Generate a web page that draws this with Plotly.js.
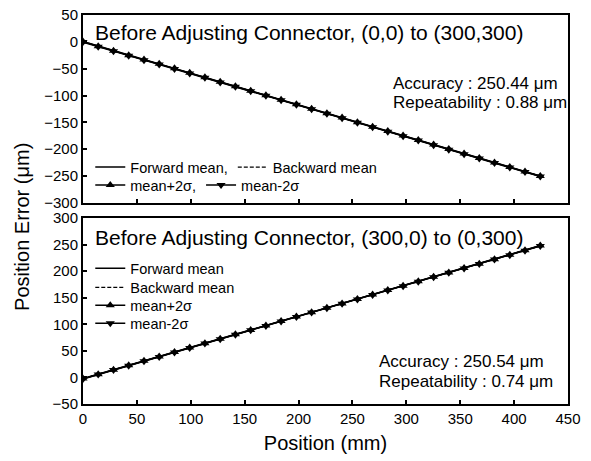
<!DOCTYPE html>
<html>
<head>
<meta charset="utf-8">
<script src="https://cdn.plot.ly/plotly-3.0.1.min.js"></script>
<style>html,body{margin:0;padding:0;background:#fff;}#chart{width:591px;height:461px;}</style>
</head>
<body>
<div id="chart"></div>
<script>
// Position along the diagonal (mm)
var position = [0, 14.1, 28.3, 42.4, 56.6, 70.7, 84.9, 99.0, 113.1, 127.3, 141.4, 155.6, 169.7, 183.8, 198.0, 212.1, 226.3, 240.4, 254.6, 268.7, 282.8, 297.0, 311.1, 325.3, 339.4, 353.6, 367.7, 381.8, 396.0, 410.1, 424.3];

// Top panel: (0,0) to (300,300)
var topForward = [0, -8.6, -17.2, -25.3, -33.6, -41.5, -49.8, -58.3, -66.6, -75.0, -83.2, -91.5, -100.0, -108.4, -116.8, -125.0, -133.4, -141.6, -150.2, -158.5, -166.8, -175.1, -183.5, -191.8, -200.3, -208.6, -216.9, -225.2, -233.6, -241.9, -250.4];
var topBackward = [0.2, -8.4, -17.0, -25.5, -33.4, -41.7, -50.0, -58.1, -66.4, -75.2, -83.4, -91.3, -99.8, -108.6, -116.6, -125.2, -133.2, -141.8, -150.0, -158.7, -166.6, -175.3, -183.3, -192.0, -200.1, -208.8, -216.7, -225.4, -233.4, -242.1, -250.2];
var topPlus2s = [0.6, -8.0, -16.6, -24.8, -33.0, -41.0, -49.3, -57.7, -66.1, -74.5, -82.7, -90.9, -99.5, -107.9, -116.2, -124.5, -132.8, -141.1, -149.6, -158.0, -166.2, -174.6, -182.9, -191.3, -199.7, -208.1, -216.3, -224.7, -233.0, -241.4, -249.8];
var topMinus2s = [-0.5, -9.1, -17.7, -25.9, -34.1, -42.1, -50.4, -58.8, -67.1, -75.6, -83.8, -92.0, -100.5, -109.0, -117.3, -125.6, -133.9, -142.2, -150.7, -159.1, -167.3, -175.7, -184.0, -192.4, -200.8, -209.2, -217.5, -225.8, -234.1, -242.5, -251.0];

// Bottom panel: (300,0) to (0,300)
var botForward = [-2.5, 5.8, 14.2, 22.5, 30.9, 39.1, 47.4, 55.8, 64.1, 72.5, 80.8, 89.0, 97.4, 105.7, 114.1, 122.4, 130.6, 139.0, 147.3, 155.7, 164.0, 172.2, 180.6, 188.9, 197.3, 205.6, 213.8, 222.2, 230.5, 238.9, 247.8];
var botBackward = [-2.3, 6.0, 14.0, 22.7, 30.7, 39.3, 47.2, 56.0, 63.9, 72.7, 80.6, 89.2, 97.2, 105.9, 113.9, 122.6, 130.4, 139.2, 147.1, 155.9, 163.8, 172.4, 180.4, 189.1, 197.1, 205.8, 213.6, 222.4, 230.3, 239.1, 247.6];
var botPlus2s = [-2.0, 6.2, 14.6, 22.9, 31.3, 39.5, 47.8, 56.2, 64.5, 72.9, 81.2, 89.4, 97.8, 106.1, 114.5, 122.8, 131.0, 139.4, 147.7, 156.1, 164.4, 172.6, 181.0, 189.3, 197.7, 206.0, 214.2, 222.6, 230.9, 239.3, 248.3];
var botMinus2s = [-2.9, 5.4, 13.8, 22.1, 30.5, 38.7, 47.0, 55.4, 63.7, 72.1, 80.4, 88.6, 97.0, 105.3, 113.7, 122.0, 130.2, 138.6, 146.9, 155.3, 163.6, 171.8, 180.2, 188.5, 196.9, 205.2, 213.4, 221.8, 230.1, 238.5, 247.4];

var topTitle = 'Before Adjusting Connector, (0,0) to (300,300)';
var botTitle = 'Before Adjusting Connector, (300,0) to (0,300)';
var topStats = ['Accuracy : 250.44 μm', 'Repeatability : 0.88 μm'];
var botStats = ['Accuracy : 250.54 μm', 'Repeatability : 0.74 μm'];

var FONT = 'Arial, "Liberation Sans", sans-serif';
var K = '#000';

function tr(x, y, name, xa, ya, opts) {
  var t = {x: x, y: y, name: name, xaxis: xa, yaxis: ya, type: 'scatter', hoverinfo: 'skip',
    mode: opts.mode, line: {color: K, width: opts.lw || 2, dash: opts.dash || 'solid'}, legend: opts.legend};
  if (opts.symbol) t.marker = {symbol: opts.symbol, size: 8, color: K};
  return t;
}

var data = [
  tr(position, topForward, 'Forward mean,', 'x2', 'y', {mode: 'lines', lw: 1.5, legend: 'legend'}),
  tr(position, topBackward, 'Backward mean', 'x2', 'y', {mode: 'lines', dash: '4px,2px', lw: 1.2, legend: 'legend'}),
  tr(position, topPlus2s, 'mean+2σ,', 'x2', 'y', {mode: 'lines+markers', symbol: 'triangle-up', lw: 1.5, legend: 'legend3'}),
  tr(position, topMinus2s, 'mean-2σ', 'x2', 'y', {mode: 'lines+markers', symbol: 'triangle-down', lw: 1.5, legend: 'legend3'}),
  tr(position, botForward, 'Forward mean', 'x', 'y2', {mode: 'lines', lw: 1.5, legend: 'legend2'}),
  tr(position, botBackward, 'Backward mean', 'x', 'y2', {mode: 'lines', dash: '4px,2px', lw: 1.2, legend: 'legend4'}),
  tr(position, botPlus2s, 'mean+2σ', 'x', 'y2', {mode: 'lines+markers', symbol: 'triangle-up', lw: 1.5, legend: 'legend5'}),
  tr(position, botMinus2s, 'mean-2σ', 'x', 'y2', {mode: 'lines+markers', symbol: 'triangle-down', lw: 1.5, legend: 'legend6'})
];

var axisCommon = {showline: true, mirror: true, linecolor: K, linewidth: 2, ticks: 'inside', ticklen: 4, tickwidth: 2,
  tickcolor: K, showgrid: false, zeroline: false, tickfont: {family: FONT, size: 15, color: K}, dtick: 50};

function legendCfg(x, y, orient) {
  return {x: x, y: y, xanchor: 'left', yanchor: 'top', orientation: orient, bgcolor: 'rgba(0,0,0,0)',
    borderwidth: 0, font: {family: FONT, size: 14.5, color: K}, tracegroupgap: 0, itemclick: false};
}

var layout = {
  width: 591, height: 461,
  margin: {l: 83, r: 23, t: 15, b: 57},
  paper_bgcolor: '#fff', plot_bgcolor: '#fff',
  showlegend: true,
  font: {family: FONT, color: K},
  xaxis: Object.assign({}, axisCommon, {domain: [0, 1], anchor: 'y2', range: [0, 450],
    title: {text: 'Position (mm)', font: {family: FONT, size: 20, color: K}, standoff: 10}}),
  xaxis2: Object.assign({}, axisCommon, {domain: [0, 1], anchor: 'y', range: [0, 450], matches: 'x', showticklabels: false}),
  yaxis: Object.assign({}, axisCommon, {domain: [0.517, 1], anchor: 'x2', range: [-300, 50]}),
  yaxis2: Object.assign({}, axisCommon, {domain: [0, 0.478], anchor: 'x', range: [-50, 300]}),
  legend: legendCfg(0.015, 0.65, 'h'),
  legend3: legendCfg(0.015, 0.604, 'h'),
  legend2: legendCfg(0.015, 0.39, 'v'),
  legend4: legendCfg(0.015, 0.341, 'v'),
  legend5: legendCfg(0.015, 0.295, 'v'),
  legend6: legendCfg(0.015, 0.2486, 'v'),
  annotations: [
    {text: topTitle, xref: 'paper', yref: 'paper', x: 0.02, y: 0.956, xanchor: 'left', yanchor: 'middle', showarrow: false, font: {family: FONT, size: 21, color: K}},
    {text: botTitle, xref: 'paper', yref: 'paper', x: 0.02, y: 0.429, xanchor: 'left', yanchor: 'middle', showarrow: false, font: {family: FONT, size: 21, color: K}},
    {text: topStats[0], xref: 'paper', yref: 'paper', x: 0.635, y: 0.825, xanchor: 'left', yanchor: 'middle', showarrow: false, font: {family: FONT, size: 17, color: K}},
    {text: topStats[1], xref: 'paper', yref: 'paper', x: 0.635, y: 0.776, xanchor: 'left', yanchor: 'middle', showarrow: false, font: {family: FONT, size: 17, color: K}},
    {text: botStats[0], xref: 'paper', yref: 'paper', x: 0.606, y: 0.1105, xanchor: 'left', yanchor: 'middle', showarrow: false, font: {family: FONT, size: 17, color: K}},
    {text: botStats[1], xref: 'paper', yref: 'paper', x: 0.606, y: 0.0566, xanchor: 'left', yanchor: 'middle', showarrow: false, font: {family: FONT, size: 17, color: K}},
    {text: 'Position Error (μm)', xref: 'paper', yref: 'paper', x: -0.126, y: 0.455, xanchor: 'center', yanchor: 'middle', textangle: -90, showarrow: false, font: {family: FONT, size: 20, color: K}}
  ]
};

Plotly.newPlot('chart', data, layout, {staticPlot: true, displayModeBar: false});
</script>
</body>
</html>
